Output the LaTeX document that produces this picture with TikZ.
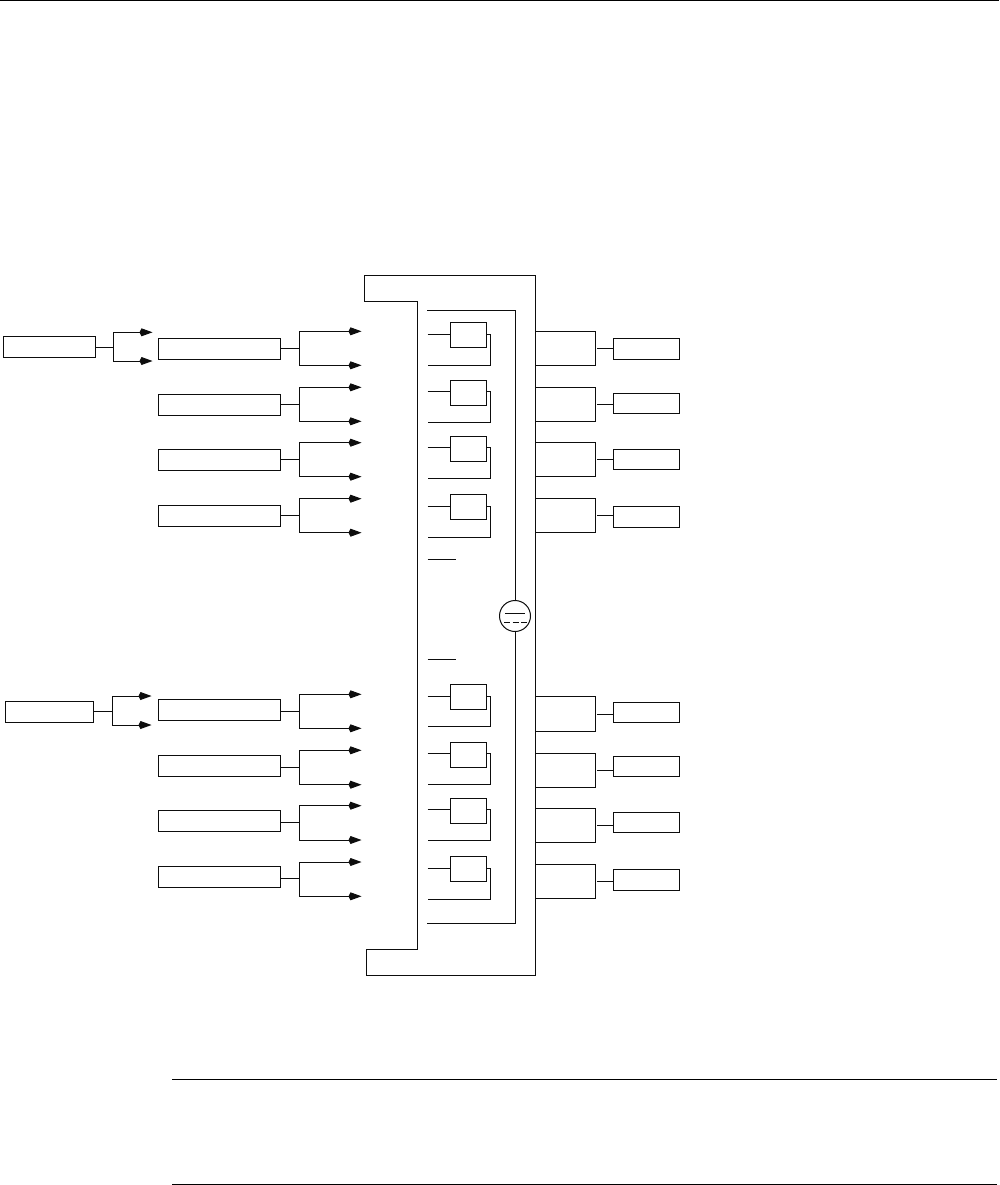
\documentclass[tikz,border=0pt]{standalone}
\usetikzlibrary{arrows.meta}
\tikzset{
  wire/.style={line width=1pt,black!95},
  arr/.style={wire,-{Kite[length=13pt,width=8pt,inset=2pt,sep=0pt]}},
  boxn/.style={draw=black!95,line width=1pt,rectangle,inner sep=0pt,outer sep=0pt,anchor=north west},
  rule/.style={line width=1pt,black},
}
% \bx{name}{x1}{y1}{x2}{y2}
\newcommand{\bx}[5]{\pgfmathsetmacro{\bxw}{#4-#2}\pgfmathsetmacro{\bxh}{#5-#3}\node[boxn,minimum width=\bxw pt,minimum height=\bxh pt] (#1) at (#2,#3) {};}
\begin{document}
\begin{tikzpicture}[x=1pt,y=-1pt]
\useasboundingbox (0,0) rectangle (999,1185);
% page rules
\coordinate (r0a) at (0,0.6); \coordinate (r0b) at (999,0.6);
\coordinate (r1a) at (172,1079.5); \coordinate (r1b) at (997,1079.5);
\coordinate (r2a) at (172,1184.5); \coordinate (r2b) at (997,1184.5);
\draw[rule] (r0a)--(r0b); \draw[rule] (r1a)--(r1b); \draw[rule] (r2a)--(r2b);
% left feeder boxes
\bx{fa}{3.3}{336.5}{95.5}{357.2}
\coordinate (fas) at (113,347.3); \coordinate (fat) at (152.5,332.3); \coordinate (fab) at (152.5,361);
\draw[wire] (fa.east |- fas) -- (fas);
\draw[arr] (fas) |- (fat);
\draw[arr] (fas) |- (fab);
\bx{fb}{5.3}{701.3}{93.5}{722.3}
\coordinate (fbs) at (112.5,711.5); \coordinate (fbt) at (151.5,696); \coordinate (fbb) at (151.5,725);
\draw[wire] (fb.east |- fbs) -- (fbs);
\draw[arr] (fbs) |- (fbt);
\draw[arr] (fbs) |- (fbb);
% input rows: name, box top, box bottom, stem y, branch top, branch bottom
\foreach \nm/\ya/\yb/\ys/\yt/\yu in {
 i1/338.3/359/348.3/331.3/365.3, i2/394.3/415.3/404.3/387.3/421.3,
 i3/449.7/470.3/459.7/442.7/476.7, i4/505.7/526.3/515.3/498.7/532.7,
 i5/699.7/720/711.7/694.3/728.3, i6/755.7/776/767.7/750.3/784.7,
 i7/810.3/831.3/822.3/805.7/840, i8/866.3/887.3/878.7/862/896.3}{
  \bx{\nm}{158.3}{\ya}{280.7}{\yb}
  \coordinate (\nm s) at (299.7,\ys);
  \coordinate (\nm t) at (361.5,\yt); \coordinate (\nm b) at (361.5,\yu);
  \draw[wire] (\nm.east |- \nm s) -- (\nm s);
  \draw[arr] (\nm s) |- (\nm t);
  \draw[arr] (\nm s) |- (\nm b);
}
% large outline
\coordinate (c1) at (364.7,275.3); \coordinate (c2) at (535,275.3); \coordinate (c3) at (535,975.7);
\coordinate (c4) at (366,975.7); \coordinate (c5) at (366,949.3); \coordinate (c6) at (417.7,949.3);
\coordinate (c7) at (417.7,301); \coordinate (c8) at (364.7,301);
\draw[wire,line join=miter] (c1)--(c2)--(c3)--(c4)--(c5)--(c6)--(c7)--(c8)--cycle;
% tube symbol and inner loop
\node[draw=black!95,line width=1pt,circle,minimum size=31pt,inner sep=0pt,outer sep=0pt] (tube) at (515,616) {};
\coordinate (lt) at (427,310.3); \coordinate (lb) at (427,923.3);
\draw[wire] (lt) -| (tube.north);
\draw[wire] (lb) -| (tube.south);
\coordinate (ta) at (505.3,613); \coordinate (tb) at (525,613);
\coordinate (tc) at (504,622.3); \coordinate (td) at (528,622.3);
\draw[wire] (ta)--(tb);
\draw[wire,dash pattern=on 6pt off 2.5pt] (tc)--(td);
\coordinate (sa) at (427.7,559.3); \coordinate (sb) at (456,559.3);
\coordinate (sc) at (427.7,659.3); \coordinate (sd) at (456,659.3);
\draw[wire] (sa)--(sb); \draw[wire] (sc)--(sd);
% small boxes with return wires: name, top, bottom, stem y, return y
\foreach \nm/\ya/\yb/\ys/\yr in {
 s1/322.3/347.3/334/365, s2/380.3/405.3/391.3/422.3, s3/436.3/461.3/447.3/478.3, s4/494.3/519.3/506.3/537.3,
 s5/684.3/709.3/696.3/726.3, s6/742.3/767.3/753.3/784.3, s7/798.3/823.3/809.3/840.3, s8/856.3/881.3/868.3/899.3}{
  \bx{\nm}{450.3}{\ya}{486.7}{\yb}
  \coordinate (\nm a) at (427.7,\ys); \coordinate (\nm r) at (427.7,\yr);
  \coordinate (\nm c) at (490.7,\ys);
  \draw[wire] (\nm a) -- (\nm.west |- \nm a);
  \draw[wire] (\nm.east |- \nm a) -- (\nm c) |- (\nm r);
}
% output rows: name, bracket top, bottom, stem y, box top, box bottom
\foreach \nm/\yt/\yu/\ys/\ya/\yb in {
 o1/331.3/365.3/348.7/338.3/359.3, o2/387.3/421.3/404.7/393/413.3,
 o3/442.7/476.7/459.7/449.3/469.7, o4/498.7/532.7/515.3/506.7/527,
 o5/696.7/731/714/702.3/722.7, o6/753/787/770.3/756/776.3,
 o7/808.3/842.3/825.7/812/832.7, o8/864.3/898.3/881/869/890}{
  \bx{\nm}{613.5}{\ya}{679.7}{\yb}
  \coordinate (\nm p) at (535,\yt); \coordinate (\nm q) at (535,\yu);
  \coordinate (\nm c) at (595.3,\yt); \coordinate (\nm d) at (595.3,\yu);
  \coordinate (\nm s) at (597,\ys);
  \draw[wire] (\nm p) -- (\nm c) -- (\nm d) -- (\nm q);
  \draw[wire] (\nm s) -- (\nm.west |- \nm s);
}
\end{tikzpicture}
\end{document}
